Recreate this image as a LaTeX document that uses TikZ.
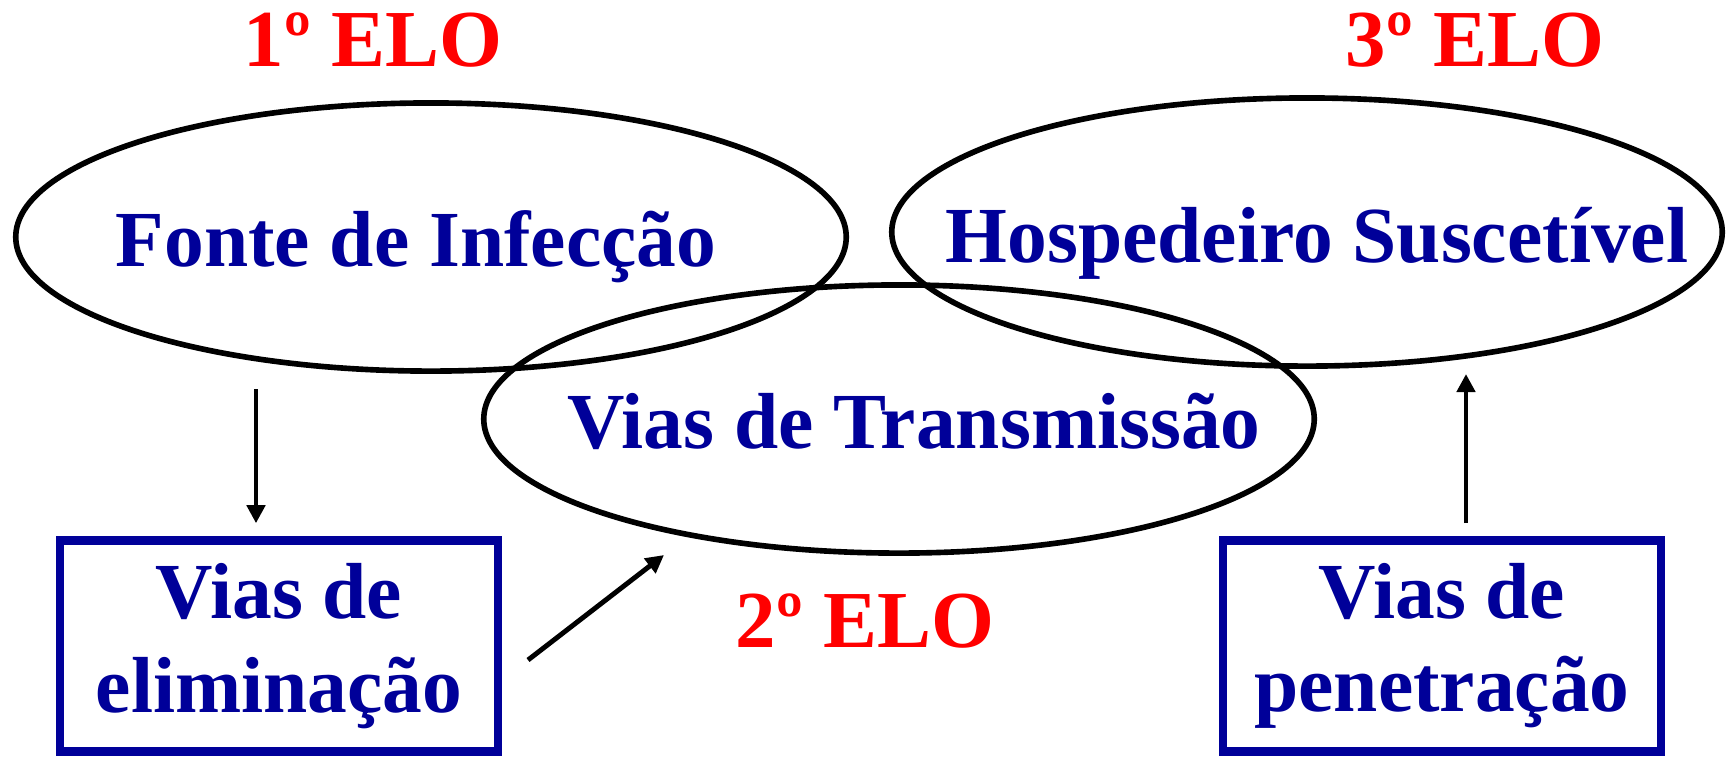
\documentclass[tikz,border=0pt]{standalone}
\usepackage{fontspec}
\setmainfont{Liberation Serif}
\usetikzlibrary{shapes.geometric,arrows.meta}
\definecolor{elored}{RGB}{255,0,0}
\definecolor{viablue}{RGB}{0,0,153}
\tikzset{
  ring/.style={draw,ellipse,line width=1.6pt,minimum width=8.3cm,minimum height=2.68cm,inner sep=0pt},
  elo/.style={text=elored,font=\fontsize{23}{26}\selectfont\bfseries,anchor=base},
  nome/.style={text=viablue,font=\fontsize{22.6}{26}\selectfont\bfseries,anchor=base},
  via/.style={draw=viablue,line width=2.4pt,minimum width=4.38cm,minimum height=2.11cm,text=viablue,align=center,font=\fontsize{22.6}{26.6}\selectfont\bfseries},
  seta/.style={line width=1.4pt,-{Triangle[length=0.18cm,width=0.18cm]}}
}
\begin{document}
\begin{tikzpicture}[x=0.01cm,y=-0.01cm]
\useasboundingbox (0,0) rectangle (1736,756);
% elos
\node[ring] (fonte) at (431,237) {};
\node[ring] (trans) at (899,419) {};
\node[ring] (hosp) at (1307,232) {};
\node[nome] (tfonte) at (416,266) {Fonte de Infecção};
\node[nome] (ttrans) at (914,448) {Vias de Transmissão};
\node[nome] (thosp) at (1317,262) {Hospedeiro Suscetível};
\node[elo] (elo1) at (373,66) {1º ELO};
\node[elo] (elo2) at (865,647) {2º ELO};
\node[elo] (elo3) at (1475,66) {3º ELO};
% vias
\node[via] (elim) at (279,646) {Vias de\\eliminação};
\node[via] (penet) at (1442,646) {Vias de\\penetração};
% setas
\coordinate (s1) at (256,389);
\draw[seta,shorten >=0.13cm] (s1) -- (s1 |- elim.north);
\coordinate (s2a) at (528,660);
\coordinate (s2b) at (664,555);
\draw[seta] (s2a) -- (s2b);
\coordinate (s3) at (1466,374);
\draw[seta,shorten <=0.13cm] (s3 |- penet.north) -- (s3);
\end{tikzpicture}
\end{document}
